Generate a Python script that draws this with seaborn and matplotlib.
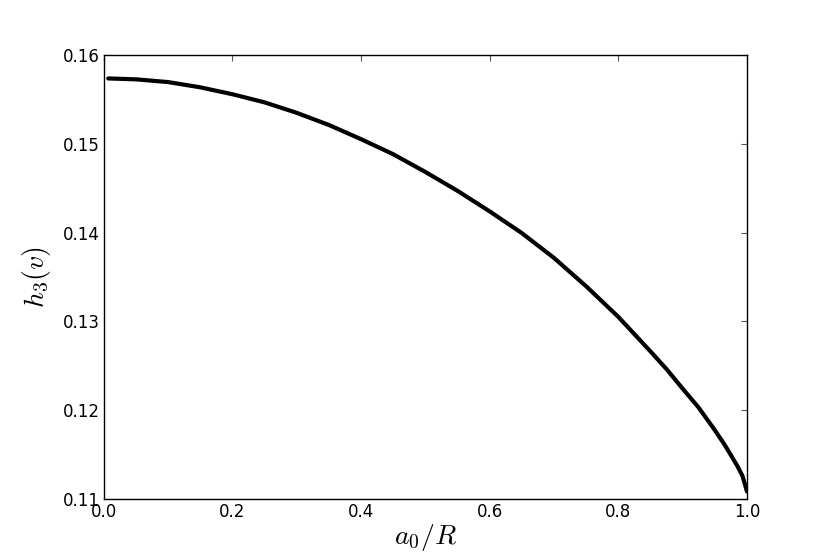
import seaborn as sns
import matplotlib.pyplot as plt
import pandas as pd

# Data
a0_over_R = [0.007, 0.05, 0.1, 0.15, 0.2, 0.25, 0.3, 0.35, 0.4, 0.45, 0.5, 0.55,
             0.6, 0.65, 0.7, 0.75, 0.8, 0.85, 0.875, 0.9, 0.925, 0.95, 0.965,
             0.975, 0.985, 0.993, 1.0]
h3 = [0.15740, 0.15730, 0.15699, 0.15640, 0.15562, 0.15470, 0.15352, 0.15215,
      0.15055, 0.14885, 0.14685, 0.14472, 0.14240, 0.13995, 0.13715, 0.13395,
      0.13050, 0.12660, 0.12460, 0.12240, 0.12025, 0.11772, 0.11610, 0.11490,
      0.11368, 0.11255, 0.11080]

df = pd.DataFrame({'a0R': a0_over_R, 'h3': h3})

sns.set_style("white", {
    'xtick.direction': 'in', 'ytick.direction': 'in',
    'axes.edgecolor': 'black', 'text.color': 'black',
    'xtick.color': 'black', 'ytick.color': 'black', 'axes.labelcolor': 'black',
})
plt.rcParams['font.family'] = ['DejaVu Sans']
plt.rcParams['mathtext.fontset'] = 'cm'

fig = plt.figure(figsize=(8.3, 5.54), dpi=100)
ax = fig.add_axes([0.125, 0.1, 0.775, 0.8])
sns.lineplot(x='a0R', y='h3', data=df, color='black', linewidth=3, ax=ax)

ax.set_xlim(0, 1.0)
ax.set_ylim(0.11, 0.16)
ax.set_xticks([0.0, 0.2, 0.4, 0.6, 0.8, 1.0])
ax.set_yticks([0.11, 0.12, 0.13, 0.14, 0.15, 0.16])
ax.tick_params(axis='both', which='both', direction='in', length=4, width=0.8,
               top=True, right=True, labelsize=12, pad=3, labelcolor='black',
               color='#555555')
for s in ax.spines.values():
    s.set_linewidth(1.0)
    s.set_color('black')

ax.set_xlabel(r'$a_0/R$', fontsize=20, labelpad=1)
ax.set_ylabel(r'$h_3(v)$', fontsize=20, labelpad=7)

fig.savefig('out.png', dpi=100)
